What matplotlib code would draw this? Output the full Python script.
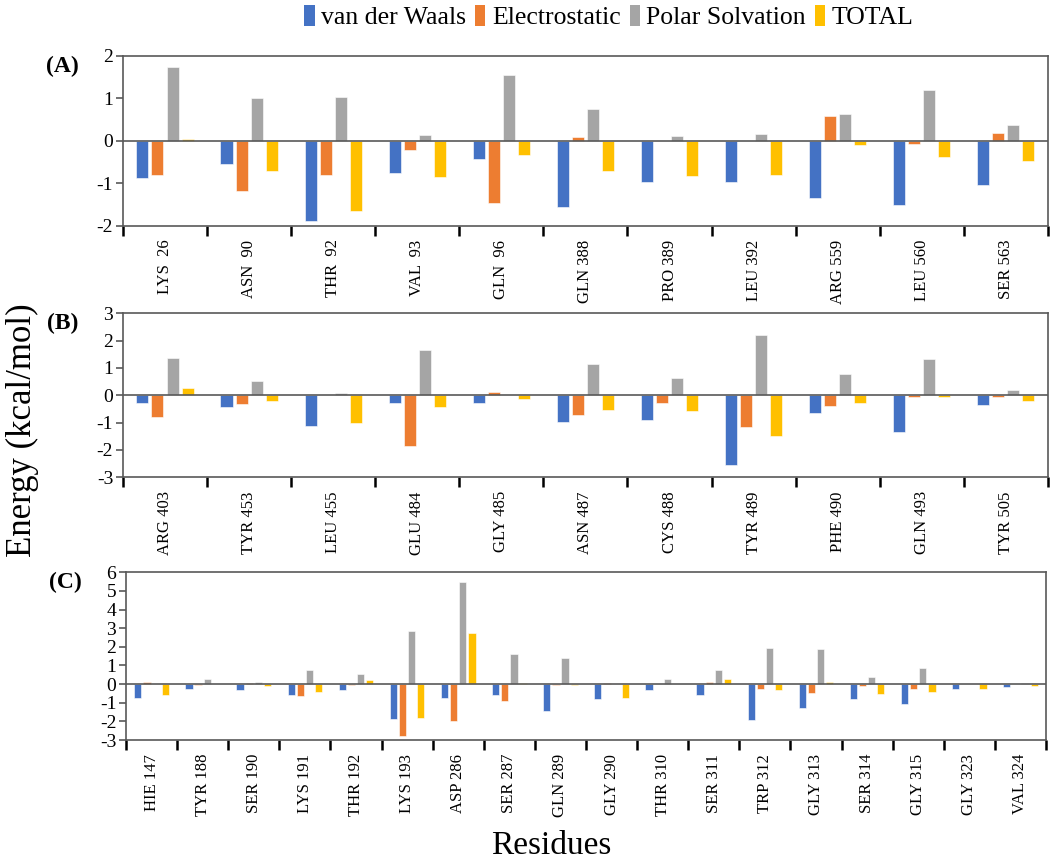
# 分组柱状图：三个面板的残基能量分解
from matplotlib import pyplot as plt
from matplotlib.patches import Patch
import numpy as np

plt.rcParams['font.family'] = ['Liberation Serif', 'DejaVu Serif']
plt.rcParams['axes.unicode_minus'] = False

# 数据
series_names = ['van der Waals', 'Electrostatic', 'Polar Solvation', 'TOTAL']
colors = ['#4472C4', '#ED7D31', '#A5A5A5', '#FFC000']

res_a = ['LYS  26', 'ASN  90', 'THR  92', 'VAL  93', 'GLN  96', 'GLN 388',
         'PRO 389', 'LEU 392', 'ARG 559', 'LEU 560', 'SER 563']
vdw_a = [-0.87, -0.54, -1.89, -0.77, -0.43, -1.56, -0.98, -0.98, -1.34, -1.52, -1.05]
ele_a = [-0.80, -1.19, -0.81, -0.23, -1.47, 0.09, 0.0, 0.0, 0.59, -0.08, 0.17]
pol_a = [1.74, 1.00, 1.02, 0.13, 1.55, 0.74, 0.12, 0.16, 0.62, 1.20, 0.38]
tot_a = [0.05, -0.72, -1.66, -0.85, -0.33, -0.71, -0.84, -0.81, -0.11, -0.39, -0.48]

res_b = ['ARG 403', 'TYR 453', 'LEU 455', 'GLU 484', 'GLY 485', 'ASN 487',
         'CYS 488', 'TYR 489', 'PHE 490', 'GLN 493', 'TYR 505']
vdw_b = [-0.30, -0.41, -1.11, -0.30, -0.30, -0.98, -0.89, -2.55, -0.65, -1.34, -0.34]
ele_b = [-0.78, -0.32, 0.0, -1.84, 0.13, -0.72, -0.30, -1.16, -0.40, -0.07, -0.06]
pol_b = [1.35, 0.51, 0.10, 1.65, 0.0, 1.15, 0.63, 2.20, 0.79, 1.33, 0.20]
tot_b = [0.27, -0.20, -1.02, -0.44, -0.15, -0.52, -0.56, -1.50, -0.27, -0.06, -0.21]

res_c = ['HIE 147', 'TYR 188', 'SER 190', 'LYS 191', 'THR 192', 'LYS 193',
         'ASP 286', 'SER 287', 'GLN 289', 'GLY 290', 'THR 310', 'SER 311',
         'TRP 312', 'GLY 313', 'SER 314', 'GLY 315', 'GLY 323', 'VAL 324']
vdw_c = [-0.75, -0.25, -0.30, -0.56, -0.34, -1.86, -0.75, -0.59, -1.43, -0.81,
         -0.30, -0.59, -1.95, -1.27, -0.82, -1.04, -0.25, -0.14]
ele_c = [0.14, -0.07, 0.07, -0.66, -0.05, -2.81, -1.99, -0.93, -0.04, 0.07,
         0.0, 0.09, -0.27, -0.48, -0.10, -0.25, 0.0, 0.0]
pol_c = [0.0, 0.30, 0.13, 0.77, 0.57, 2.87, 5.47, 1.60, 1.40, 0.0,
         0.27, 0.77, 1.92, 1.86, 0.39, 0.86, 0.0, 0.05]
tot_c = [-0.59, 0.0, -0.10, -0.43, 0.20, -1.81, 2.72, 0.07, -0.07, -0.73,
         0.0, 0.27, -0.30, 0.09, -0.54, -0.41, -0.25, -0.09]

panels = [
    ('(A)', res_a, [vdw_a, ele_a, pol_a, tot_a], (-2, 2), [0.1171, 0.7376, 0.8809, 0.1976]),
    ('(B)', res_b, [vdw_b, ele_b, pol_b, tot_b], (-3, 3), [0.1171, 0.4450, 0.8809, 0.1907]),
    ('(C)', res_c, [vdw_c, ele_c, pol_c, tot_c], (-3, 6), [0.1200, 0.1395, 0.8762, 0.1950]),
]

fig = plt.figure(figsize=(10.5, 8.6), dpi=100)

step = 0.179
width = 0.143
frame = '#595959'

for tag, names, values, ylim, pos in panels:
    ax = fig.add_axes(pos)
    x = np.arange(len(names))
    for i, (vals, c) in enumerate(zip(values, colors)):
        ax.bar(x + (i - 1.5) * step, vals, width, color=c, edgecolor='white', linewidth=0.4, zorder=3)

    ax.axhline(0, color=frame, linewidth=1.2, zorder=4)
    ax.set_xlim(-0.5, len(names) - 0.5)
    ax.set_ylim(*ylim)
    ax.set_yticks(np.arange(ylim[0], ylim[1] + 1))

    # 类别标签在中间，刻度线在类别之间
    ax.set_xticks(x)
    ax.set_xticklabels(names, rotation=90, fontsize=12)
    ax.set_xticks(np.arange(-0.5, len(names)), minor=True)
    ax.tick_params(axis='x', which='major', length=0, pad=10)
    ax.tick_params(axis='x', which='minor', length=7, width=1.8, color='black', direction='out')
    ax.tick_params(axis='y', labelsize=14, length=5, width=1.2, color=frame, pad=2)

    for s in ax.spines.values():
        s.set_color(frame)
        s.set_linewidth(1.2)

    fig.text(pos[0] - 0.042, pos[1] + pos[3] - 0.012, tag, fontsize=17, fontweight='bold',
             ha='right', va='center')

# 图例
handles = [Patch(facecolor=c, label=n) for n, c in zip(series_names, colors)]
fig.legend(handles=handles, loc='center', bbox_to_anchor=(0.58, 0.98), ncol=4,
           frameon=False, fontsize=18.5, handlelength=0.4, handleheight=0.9,
           handletextpad=0.25, columnspacing=0.35)

fig.text(0.021, 0.50, 'Energy (kcal/mol)', rotation=90, fontsize=25, ha='center', va='center')
fig.text(0.525, 0.016, 'Residues', fontsize=24, ha='center', va='center')

plt.savefig('out.png', dpi=100)
